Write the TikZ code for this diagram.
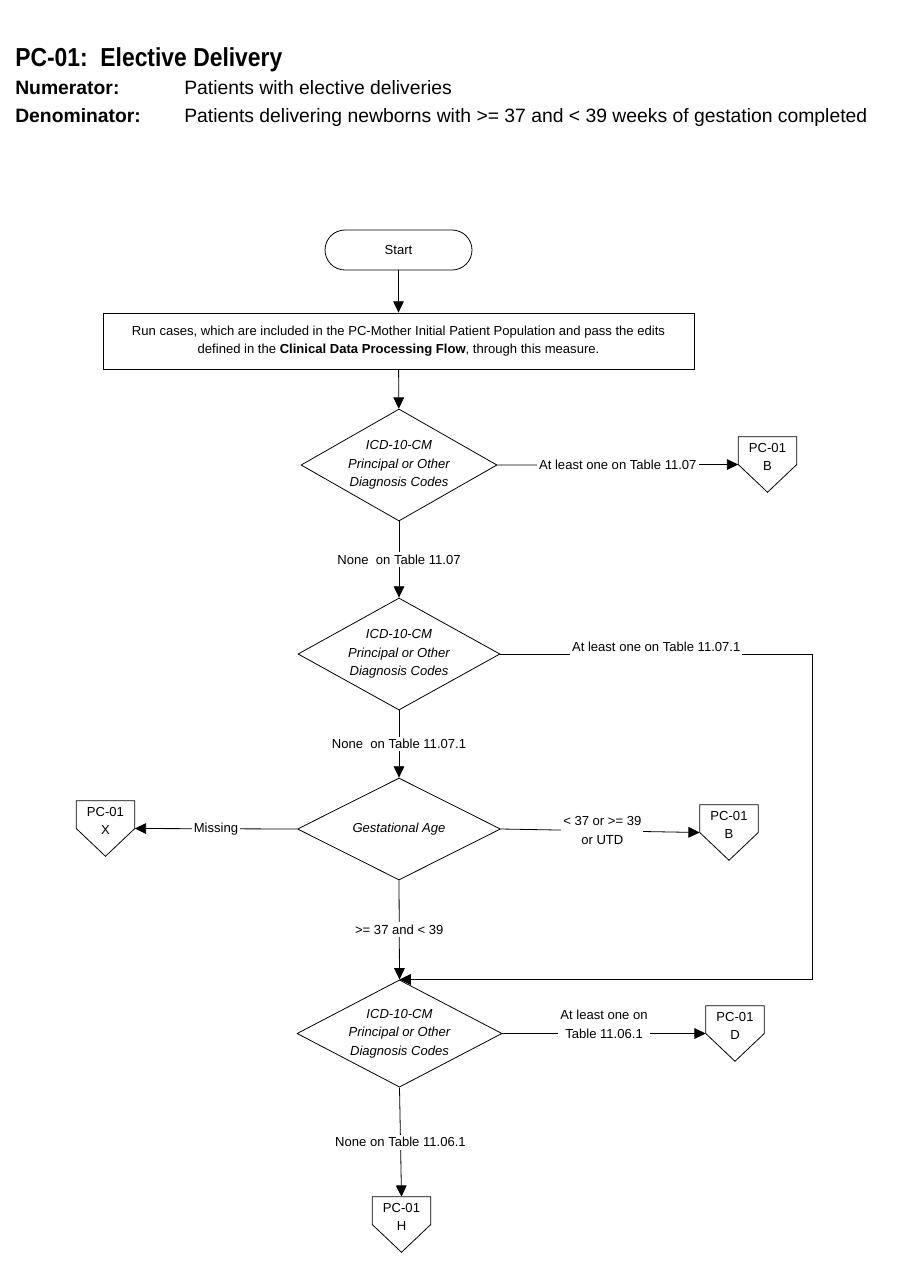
\documentclass[tikz,border=0pt]{standalone}
\usepackage{fontspec}
\setmainfont{Liberation Sans}
\newfontfamily\titlefont[FakeStretch=0.88]{Liberation Sans}
\usetikzlibrary{shapes.geometric,arrows.meta,calc}
\tikzset{
  ln/.style={line width=0.6pt},
  arr/.style={ln,-{Triangle[length=8.5pt,width=8pt]}},
  ff/.style={font=\fontsize{9.8}{14}\selectfont},
  dec/.style={ff,diamond,draw,ln,inner sep=0pt,aspect=1.75,align=center,font=\fontsize{9.8}{14}\selectfont\itshape},
  procbox/.style={ff,draw,ln,align=center,inner sep=0pt},
  lbl/.style={ff,fill=white,inner xsep=1.5pt,inner ysep=2pt,align=center},
  conn/.style={minimum width=58*0.75pt,minimum height=55*0.75pt,inner sep=0pt},
  conntext/.style={ff,align=center,inner sep=0pt},
  head/.style={anchor=base west,inner sep=0pt,font=\fontsize{14.5}{17}\selectfont}
}
\begin{document}
\begin{tikzpicture}[x=0.75pt,y=-0.75pt]
\useasboundingbox (0,0) rectangle (900,1286);
% header
\node[anchor=base west,inner sep=0pt,font=\titlefont\fontsize{19.5}{22}\selectfont\bfseries] (title) at (15,66) {PC-01:\ \ Elective Delivery};
\node[head,font=\fontsize{14.5}{17}\selectfont\bfseries] (numl) at (15,94) {Numerator:};
\node[head] (numt) at (184,94) {Patients with elective deliveries};
\node[head,font=\fontsize{14.5}{17}\selectfont\bfseries] (denl) at (15,122) {Denominator:};
\node[head] (dent) at (184,122) {Patients delivering newborns with >= 37 and < 39 weeks of gestation completed};
% flow
\node[ff,draw,ln,rounded corners=15pt,minimum width=147*0.75pt,minimum height=40*0.75pt] (start) at (398.5,250) {Start};
\node[procbox,minimum width=591*0.75pt,minimum height=56*0.75pt] (proc) at (398.5,341)
  {Run cases, which are included in the PC-Mother Initial Patient Population and pass the edits\\
   defined in the \textbf{Clinical Data Processing Flow}, through this measure.};
\node[dec,minimum width=196*0.75pt,minimum height=112*0.75pt] (d1) at (399,465) {ICD-10-CM\\Principal or Other\\Diagnosis Codes};
\node[dec,minimum width=202*0.75pt,minimum height=112*0.75pt] (d2) at (399,654) {ICD-10-CM\\Principal or Other\\Diagnosis Codes};
\node[dec,minimum width=203*0.75pt,minimum height=102*0.75pt] (d3) at (399,829) {Gestational Age};
\node[dec,minimum width=205*0.75pt,minimum height=107*0.75pt] (d4) at (399.5,1033.5) {ICD-10-CM\\Principal or Other\\Diagnosis Codes};
% off-page connectors
\node[conn] (b1) at (767.5,464.5) {};
\node[conn] (b2) at (729,832.5) {};
\node[conn] (x1) at (105.5,828.5) {};
\node[conn] (dc) at (735,1033.5) {};
\node[conn] (h1) at (401.5,1224.5) {};
\foreach \n in {b1,b2,x1,dc,h1}
  \draw[ln] (\n.north west) -- (\n.north east) -- (\n.east) -- (\n.south) -- (\n.west) -- cycle;
\node[conntext] (b1t) at ([yshift=5.6pt]b1.center) {PC-01\\B};
\node[conntext] (b2t) at ([yshift=5.6pt]b2.center) {PC-01\\B};
\node[conntext] (x1t) at ([yshift=5.6pt]x1.center) {PC-01\\X};
\node[conntext] (dct) at ([yshift=5.6pt]dc.center) {PC-01\\D};
\node[conntext] (h1t) at ([yshift=5.6pt]h1.center) {PC-01\\H};
% connectors
\coordinate (r1) at (812,654);
\draw[arr] (start) -- (proc);
\draw[arr] (proc) -- (d1);
\draw[arr] (d1.east) -- node[lbl] (l1) {At least one on Table 11.07} (b1.west);
\draw[arr] (d1.south) -- node[lbl] (l2) {None\ \ on Table 11.07} (d2.north);
\draw[arr] (d2.east) -- node[lbl,yshift=5.5pt,inner ysep=3pt] (l3) {At least one on Table 11.07.1} (r1) |- (d4.north);
\draw[arr] (d2.south) -- node[lbl] (l4) {None\ \ on Table 11.07.1} (d3.north);
\draw[arr] (d3.west) -- node[lbl] (l5) {Missing} (x1.east);
\draw[arr] (d3.east) -- node[lbl,xshift=1.5pt] (l6) {< 37 or >= 39\\or UTD} (b2.west);
\draw[arr] (d3.south) -- node[lbl] (l7) {>= 37 and < 39} (d4.north);
\draw[arr] (d4.east) -- node[lbl,yshift=7pt] (l8) {At least one on\\Table 11.06.1} (dc.west);
\draw[arr] (d4.south) -- node[lbl] (l9) {None on Table 11.06.1} (h1.north);
\end{tikzpicture}
\end{document}
